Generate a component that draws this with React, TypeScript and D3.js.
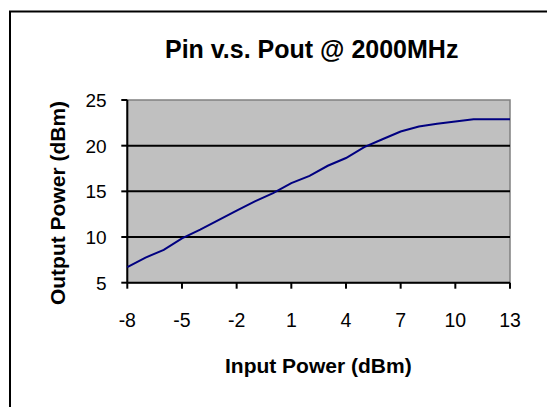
import * as d3 from 'd3';

// Input power sweep (dBm) and measured output power (dBm)
const PIN = [-8, -7, -6, -5, -4, -3, -2, -1, 0, 1, 2, 3, 4, 5, 6, 7, 8, 9, 10, 11, 12, 13];
const POUT = [
  6.7, 7.75, 8.6, 9.85, 10.8, 11.85, 12.9, 13.9, 14.8, 15.9, 16.7, 17.8, 18.65, 19.85, 20.7,
  21.55, 22.1, 22.4, 22.65, 22.9, 22.9, 22.9,
];
const X_TICKS = [-8, -5, -2, 1, 4, 7, 10, 13];
const Y_TICKS = [5, 10, 15, 20, 25];

const W = 547;
const H = 407;
const FONT = "Arial, 'Liberation Sans', sans-serif";

export default function App() {
  const plot = { left: 127.3, right: 510, top: 100, bottom: 282.7 };

  const x = d3.scaleLinear().domain([-8, 13]).range([plot.left, plot.right]);
  const y = d3.scaleLinear().domain([5, 25]).range([plot.bottom, plot.top]);

  const line = d3
    .line<number>()
    .x((_d, i) => x(PIN[i]))
    .y((d) => y(d));

  return (
    <svg
      width={W}
      height={H}
      style={{ position: 'absolute', left: 0, top: 0, background: 'white' }}
      fontFamily={FONT}
    >
      {/* chart frame, runs off the right and bottom of the picture */}
      <rect x={10} y={11.5} width={700} height={600} fill="white" stroke="black" strokeWidth={2} />

      <text x={311.7} y={58.3} textAnchor="middle" fontSize={25} fontWeight="bold">
        Pin v.s. Pout @ 2000MHz
      </text>

      {/* plot area */}
      <rect
        x={plot.left}
        y={plot.top}
        width={plot.right - plot.left}
        height={plot.bottom - plot.top}
        fill="#c0c0c0"
        stroke="#808080"
        strokeWidth={1.5}
      />

      {/* gridlines */}
      {Y_TICKS.filter((t) => t !== 5 && t !== 25).map((t) => (
        <line key={t} x1={plot.left} x2={plot.right} y1={y(t)} y2={y(t)} stroke="black" strokeWidth={2} />
      ))}

      {/* axes */}
      <line x1={plot.left} x2={plot.left} y1={plot.top} y2={plot.bottom} stroke="black" strokeWidth={2} />
      <line x1={plot.left} x2={plot.right} y1={plot.bottom} y2={plot.bottom} stroke="black" strokeWidth={2} />

      {Y_TICKS.map((t) => (
        <g key={t}>
          <line x1={plot.left - 6} x2={plot.left} y1={y(t)} y2={y(t)} stroke="black" strokeWidth={2} />
          <text x={106.7} y={y(t) + 7} textAnchor="end" fontSize={19}>
            {t}
          </text>
        </g>
      ))}

      {X_TICKS.map((t) => (
        <g key={t}>
          <line x1={x(t)} x2={x(t)} y1={plot.bottom} y2={plot.bottom + 6} stroke="black" strokeWidth={2} />
          <text x={x(t)} y={326.7} textAnchor="middle" fontSize={19.5}>
            {t}
          </text>
        </g>
      ))}

      <path d={line(POUT) ?? ''} fill="none" stroke="#000080" strokeWidth={2} />

      <text x={318.3} y={373.3} textAnchor="middle" fontSize={21} fontWeight="bold">
        Input Power (dBm)
      </text>
      <text
        transform="translate(65,203) rotate(-90)"
        textAnchor="middle"
        fontSize={21}
        fontWeight="bold"
      >
        Output Power (dBm)
      </text>
    </svg>
  );
}
